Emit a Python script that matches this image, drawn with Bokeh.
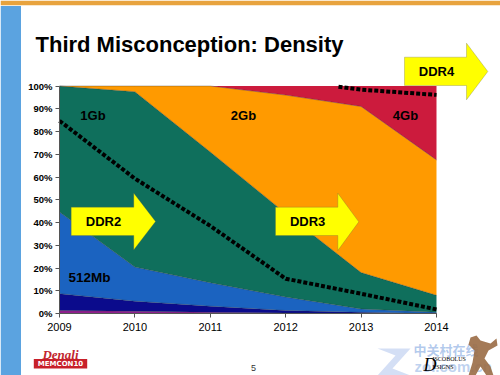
from bokeh.plotting import figure
from bokeh.models import (ColumnDataSource, Label, BoxAnnotation, PolyAnnotation,
                          FixedTicker, NumeralTickFormatter, Range1d)
from bokeh.embed import file_html
from bokeh.resources import INLINE

# ---------------- data ----------------
years = [2009, 2010, 2011, 2012, 2013, 2014]
tick_years = [2009, 2010, 2011, 2012, 2013, 2014]
share_other = [0.013, 0.010, 0.005, 0.002, 0.000, 0.000]
share_256mb = [0.074, 0.044, 0.027, 0.011, 0.005, 0.000]
share_512mb = [0.359, 0.150, 0.103, 0.059, 0.015, 0.005]
share_1gb = [0.554, 0.771, 0.575, 0.368, 0.160, 0.075]
share_2gb = [0.000, 0.025, 0.290, 0.520, 0.730, 0.595]
share_4gb = [0.000, 0.000, 0.000, 0.040, 0.090, 0.325]
layer_names = ["other", "256Mb", "512Mb", "1Gb", "2Gb", "4Gb"]
layer_colors = ["#8E1F8E", "#0B0B8C", "#1B63C0", "#0F6F5C", "#FF9A00", "#CC1B3D"]

ddr3_years = [2009, 2010, 2011, 2012, 2013, 2014]
ddr3_share = [0.847, 0.593, 0.385, 0.153, 0.087, 0.018]
ddr4_years = [2012.7, 2013, 2014]
ddr4_share = [0.997, 0.984, 0.961]

y_ticks = [0, 0.1, 0.2, 0.3, 0.4, 0.5, 0.6, 0.7, 0.8, 0.9, 1.0]

# ---------------- layout (slide pixels) ----------------
W, H = 500, 375
FL, FT, FW, FH = 59, 85.5, 377, 227.5   # where the data box 2009..2014 x 0..100% sits
X0, X1, Y0, Y1 = 2009, 2014, 0.0, 1.0


def sx(rx):
    """slide pixel x -> data x"""
    return X0 + (rx - FL) / FW * (X1 - X0)


def sy(ry):
    """slide pixel y -> data y"""
    return Y1 - (ry - FT) / FH * (Y1 - Y0)


p = figure(width=W, height=H, x_range=Range1d(sx(0), sx(W)), y_range=Range1d(sy(H), sy(0)),
           output_backend="svg", toolbar_location=None,
           min_border=0, min_border_left=0, min_border_right=0,
           min_border_top=0, min_border_bottom=0)
p.outline_line_color = None
p.background_fill_color = "white"
p.border_fill_color = "white"
p.xgrid.visible = False
p.ygrid.visible = False

data = dict(year=years)
for n, v in zip(layer_names, [share_other, share_256mb, share_512mb, share_1gb, share_2gb, share_4gb]):
    data[n] = v
src = ColumnDataSource(data)
p.varea_stack(stackers=layer_names, x="year", color=layer_colors, source=src)
p.vline_stack(stackers=layer_names[:-1], x="year", color="#2a2a2a", line_width=0.6,
              line_alpha=0.55, source=src)

p.line(ddr3_years, ddr3_share, line_color="black", line_width=4, line_dash="4 2")
p.line(ddr4_years, ddr4_share, line_color="black", line_width=4, line_dash="4 2")

# axes, pinned to the data box
p.xaxis.ticker = FixedTicker(ticks=tick_years)
p.yaxis.ticker = FixedTicker(ticks=y_ticks)
p.yaxis.formatter = NumeralTickFormatter(format="0%")
p.xaxis.fixed_location = Y0
p.yaxis.fixed_location = X0
p.xaxis.bounds = (X0, X1)
p.yaxis.bounds = (Y0, Y1)
for ax in (p.xaxis[0], p.yaxis[0]):
    ax.axis_line_color = "#555555"
    ax.major_tick_line_color = "#555555"
    ax.major_tick_in = 0
    ax.major_tick_out = 4
    ax.minor_tick_line_color = None
    ax.major_label_text_color = "black"
    ax.major_label_text_font = "Liberation Sans"
p.yaxis.major_label_text_font_size = "9.5px"
p.yaxis.major_label_text_font_style = "bold"
p.yaxis.major_label_standoff = 3
p.xaxis.major_label_text_font_size = "11px"
p.xaxis.major_label_standoff = 5

# ---------------- slide decorations ----------------
p.add_layout(BoxAnnotation(left=sx(0), right=sx(W), top=sy(0), bottom=sy(4.7),
                           fill_color="#E8A33E", fill_alpha=1, line_color=None))
p.add_layout(BoxAnnotation(left=sx(0), right=sx(20.5), top=sy(5.5), bottom=sy(H),
                           fill_color="#5BA3E0", fill_alpha=1, line_color=None))
p.add_layout(Label(x=sx(35), y=sy(43.5), text="Third Misconception: Density",
                   text_font="Liberation Sans", text_font_size="22px",
                   text_font_style="bold", text_color="black", text_baseline="alphabetic"))


def arrow(L, B, tip, sT, sB, hT, hB, text):
    cy = (hT + hB) / 2
    xs = [sx(v) for v in (L, B, B, tip, B, B, L)]
    ys = [sy(v) for v in (sT, sT, hT, cy, hB, sB, sB)]
    p.add_layout(PolyAnnotation(xs=xs, ys=ys, fill_color="#FFFF00", fill_alpha=1,
                                line_color="#6b6b40", line_width=1))
    p.add_layout(Label(x=sx((L + B) / 2 + 1), y=sy(cy), text=text, text_font="Liberation Sans",
                       text_font_size="13px", text_font_style="bold", text_color="black",
                       text_align="center", text_baseline="middle"))


arrow(70.7, 133.3, 155, 206.7, 235, 192.7, 249.3, "DDR2")
arrow(275, 337.3, 358.3, 206.7, 235, 192.7, 250, "DDR3")
arrow(404, 466, 487.3, 56.7, 85, 42.7, 99.3, "DDR4")

for txt, rx, ry, fs in [("1Gb", 92.5, 114.6, "13px"), ("2Gb", 243, 114.6, "13px"),
                        ("4Gb", 405, 114.6, "13px"), ("512Mb", 89, 276.7, "13.5px")]:
    p.add_layout(Label(x=sx(rx), y=sy(ry), text=txt, text_font="Liberation Sans",
                       text_font_size=fs, text_font_style="bold", text_color="black",
                       text_align="center", text_baseline="middle"))

# Denali / MEMCON logo
p.add_layout(Label(x=sx(60), y=sy(354), text="Denali", text_font="Liberation Serif",
                   text_font_size="13px", text_font_style="bold italic", text_color="#C2262E",
                   text_align="center", text_baseline="alphabetic"))
p.add_layout(BoxAnnotation(left=sx(33.3), right=sx(86.7), top=sy(358.5), bottom=sy(368),
                           fill_color="#C8202A", fill_alpha=1, line_color=None))
p.add_layout(Label(x=sx(60), y=sy(363.5), text="MEMCON10", text_font="DejaVu Sans",
                   text_font_size="7px", text_font_style="bold", text_color="white",
                   text_align="center", text_baseline="middle"))
# page number
p.add_layout(Label(x=sx(253), y=sy(367), text="5", text_font="Liberation Sans",
                   text_font_size="9px", text_color="#333333", text_align="center",
                   text_baseline="middle"))
# watermark / designer logo
p.add_layout(PolyAnnotation(xs=[sx(v) for v in (377, 410, 392, 410, 377, 395)],
                            ys=[sy(v) for v in (348, 348, 368, 375, 375, 355)],
                            fill_color="#9FB8E8", fill_alpha=0.45, line_color=None))
p.add_layout(Label(x=sx(413), y=sy(349), text="中关村在线", text_font="Noto Sans CJK SC",
                   text_font_size="13px", text_font_style="bold", text_color="#7FA6E0",
                   text_alpha=0.6, text_baseline="middle"))
p.add_layout(Label(x=sx(414), y=sy(366), text="zol.com.cn", text_font="Liberation Sans",
                   text_font_size="15px", text_font_style="bold", text_color="#7FA6E0",
                   text_alpha=0.5, text_baseline="middle"))
p.add_layout(Label(x=sx(423), y=sy(364), text="D", text_font="Liberation Serif",
                   text_font_size="18px", text_font_style="italic", text_color="black",
                   text_baseline="middle"))
p.add_layout(Label(x=sx(432), y=sy(358), text="ISCOBOLUS", text_font="Liberation Serif",
                   text_font_size="6px", text_color="black", text_baseline="middle"))
p.add_layout(Label(x=sx(432), y=sy(366), text="ESIGNS", text_font="Liberation Serif",
                   text_font_size="6px", text_color="black", text_baseline="middle"))
# statue silhouette
statue_x = [470, 476, 480, 490, 496, 497, 488, 484, 490, 493, 486, 480, 475, 468, 472, 474, 468]
statue_y = [337, 335, 340, 343, 338, 345, 350, 358, 366, 375, 375, 366, 375, 375, 362, 350, 344]
p.add_layout(PolyAnnotation(xs=[sx(v) for v in statue_x], ys=[sy(v) for v in statue_y],
                            fill_color="#9A6B45", fill_alpha=0.9, line_color=None))

open("out.html", "w").write(file_html(p, INLINE))
